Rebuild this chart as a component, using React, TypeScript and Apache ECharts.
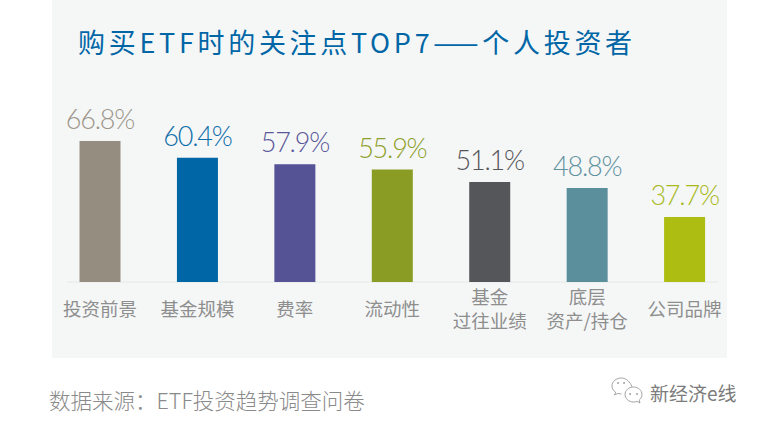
import React, { useEffect, useRef } from "react";
import * as echarts from "echarts";

const categories = ["投资前景", "基金规模", "费率", "流动性", "基金\n过往业绩", "底层\n资产/持仓", "公司品牌"];
const values = [66.8, 60.4, 57.9, 55.9, 51.1, 48.8, 37.7];
const colors = ["#958d7f", "#0066a6", "#555295", "#8a9c23", "#55565a", "#5c8f9c", "#adbd12"];
const labelColors = ["#9c958a", "#0f6ea9", "#5b5899", "#8f9f2c", "#55565a", "#5f919e", "#a9b91a"];
const titleText = "购买ETF时的关注点TOP7——个人投资者";
const sourceText = "数据来源：ETF投资趋势调查问卷";
const brandText = "新经济e线";
const CJK = '"Noto Sans CJK SC","Noto Sans",sans-serif';

const wechatBig = "M20 9C18.5 4 14 0 9.5 0C4 0 0 3.6 0 8c0 2.6 1.4 4.7 3.6 6.2L2.6 17l3.2-1.6c1.2 .3 2.4 .5 3.7 .5";
const wechatSmall = "M0 7.5C0 3.4 3.8 0 8.5 0S17 3.4 17 7.5c0 2.2-1.1 4.1-2.8 5.5L15 16l-3-1.6c-1.1 .4-2.3 .6-3.5 .6C3.8 15 0 11.6 0 7.5Z";

export default function App() {
  const ref = useRef<HTMLDivElement>(null);
  useEffect(() => {
    echarts.graphic.registerShape("wechatBig", echarts.graphic.extendPath(wechatBig, {}) as any);
    echarts.graphic.registerShape("wechatSmall", echarts.graphic.extendPath(wechatSmall, {}) as any);
    const chart = echarts.init(ref.current!, null, { renderer: "svg" });
    const dot = (cx: number, cy: number, r: number) => ({ type: "circle", shape: { cx, cy, r }, style: { fill: "#9a9a9a" } });
    chart.setOption({
      animation: false,
      backgroundColor: "#ffffff",
      grid: { left: 51.3, width: 682, top: 132.7, height: 149.3, containLabel: false },
      xAxis: {
        type: "category",
        data: categories,
        axisLine: { show: false },
        axisTick: { show: false },
        axisLabel: { color: "#8e8e8e", fontSize: 18.5, fontFamily: CJK, lineHeight: 24, interval: 0, margin: 26, verticalAlign: "middle" },
      },
      yAxis: { type: "value", min: 12.8, max: 70, show: false, splitLine: { show: false } },
      graphic: [
        { type: "rect", z: -1, shape: { x: 52, y: 0, width: 675, height: 358 }, style: { fill: "#f5f7f7" }, silent: true },
        { type: "line", z: 1, shape: { x1: 67, y1: 282, x2: 718, y2: 282 }, style: { stroke: "#e6e8e8", lineWidth: 1 } },
        { type: "text", x: 78, y: 41, style: { text: titleText, fill: "#0066a6", font: `400 27px ${CJK}`, verticalAlign: "middle" } },
        { type: "text", x: 49, y: 399, style: { text: sourceText, fill: "#8a8a8a", font: `300 21.5px ${CJK}`, verticalAlign: "middle" } },
        { type: "text", x: 650, y: 392, style: { text: brandText, fill: "#7c7c7c", font: `19px ${CJK}`, verticalAlign: "middle" } },
        { type: "wechatBig", x: 612, y: 378, style: { fill: "none", stroke: "#9a9a9a", lineWidth: 0.9 } },
        { type: "wechatSmall", x: 625, y: 387, style: { fill: "none", stroke: "#9a9a9a", lineWidth: 0.9 } },
        dot(618, 383, 0.9), dot(624, 383, 0.9), dot(630, 394, 0.9), dot(637, 394, 0.9),
      ],
      series: [{
        type: "bar",
        barWidth: 41,
        data: values.map((v, i) => ({
          value: v,
          itemStyle: { color: colors[i] },
          label: { color: labelColors[i] },
        })),
        label: { show: true, position: "top", distance: 9, fontSize: 27, fontFamily: 'Lato,"Noto Sans",sans-serif', fontWeight: 300, formatter: (p: any) => p.value.toFixed(1) + "%" },
      }],
    });
    chart.getDom().querySelectorAll("text").forEach((t: SVGTextElement) => {
      const s = t.textContent || "";
      if (s === titleText) t.style.letterSpacing = "3.7px";
      else if (s.endsWith("%")) t.style.letterSpacing = "-1.2px";
    });
    return () => chart.dispose();
  }, []);
  return <div ref={ref} style={{ position: "absolute", left: 0, top: 0, width: 761, height: 425 }} />;
}
